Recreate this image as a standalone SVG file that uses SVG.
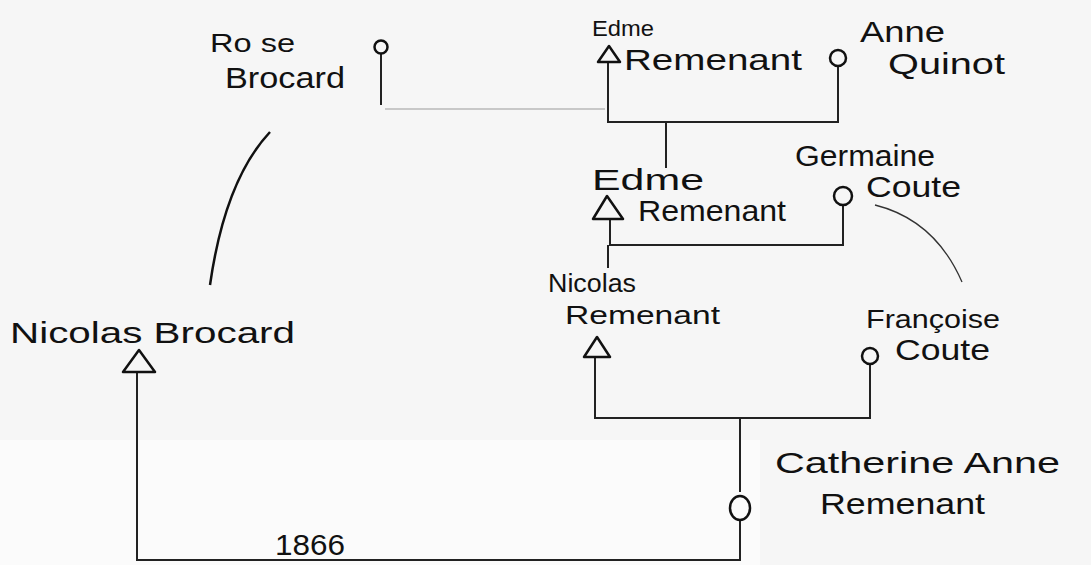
<svg xmlns="http://www.w3.org/2000/svg" width="1091" height="565" viewBox="0 0 1091 565">
<style>
.t{font-family:"Liberation Sans",Arial,sans-serif;font-size:29px;fill:#111}
.s{font-size:22px}
.m2{font-size:26px}
.ln{stroke:#222;stroke-width:2;fill:none}
.thin{stroke:#333;stroke-width:1.3;fill:none}
.f{stroke:#111;stroke-width:2.5;fill:none}
.m{stroke:#111;stroke-width:2.5;fill:none;stroke-linejoin:round}
</style>
<rect width="1091" height="565" fill="#f6f6f6"/>
<rect x="0" y="440" width="760" height="125" fill="#fbfbfb"/>
<g id="connectors">
  <path class="ln" d="M381 54 V105"/>
  <path d="M385 109 H605" stroke="#999" stroke-width="1.2" fill="none"/>
  <path class="ln" d="M608 62 V122 H838 V66"/>
  <path class="ln" d="M666 122 V168"/>
  <path class="ln" d="M610 220 V245 H843 V205"/>
  <path class="ln" d="M608 245 V268"/>
  <path class="ln" d="M595 358 V418 H870 V364"/>
  <path class="ln" d="M740 418 V492"/>
  <path class="ln" d="M740 520 V560 H137 V372"/>
  <path class="f" d="M270 132 Q225 180 210 285"/>
  <path class="thin" d="M875 205 Q935 220 962 282"/>
</g>
<g id="rose-brocard">
  <circle class="f" cx="381" cy="47" r="6.5"/>
  <text class="t m2" x="210" y="52" textLength="85" lengthAdjust="spacingAndGlyphs">Ro se</text>
  <text class="t" x="225" y="88" textLength="120" lengthAdjust="spacingAndGlyphs">Brocard</text>
</g>
<g id="edme-remenant-1">
  <polygon class="m" points="609,46 598,62 620,62"/>
  <text class="t s" x="592" y="36" textLength="62" lengthAdjust="spacingAndGlyphs">Edme</text>
  <text class="t" x="624" y="70" textLength="178" lengthAdjust="spacingAndGlyphs">Remenant</text>
</g>
<g id="anne-quinot">
  <circle class="f" cx="838" cy="58" r="8"/>
  <text class="t" x="860" y="42" textLength="85" lengthAdjust="spacingAndGlyphs">Anne</text>
  <text class="t" x="888" y="74" textLength="117" lengthAdjust="spacingAndGlyphs">Quinot</text>
</g>
<g id="edme-remenant-2">
  <polygon class="m" points="607,196 593,219 623,219"/>
  <text class="t" x="592" y="190" textLength="112" lengthAdjust="spacingAndGlyphs">Edme</text>
  <text class="t" x="638" y="221" textLength="148" lengthAdjust="spacingAndGlyphs">Remenant</text>
</g>
<g id="germaine-coute">
  <circle class="f" cx="843" cy="196" r="9"/>
  <text class="t" x="795" y="166" textLength="140" lengthAdjust="spacingAndGlyphs">Germaine</text>
  <text class="t" x="866" y="197" textLength="95" lengthAdjust="spacingAndGlyphs">Coute</text>
</g>
<g id="nicolas-remenant">
  <polygon class="m" points="597,337 584,357 610,357"/>
  <text class="t m2" x="548" y="292" textLength="88" lengthAdjust="spacingAndGlyphs">Nicolas</text>
  <text class="t m2" x="565" y="324" textLength="155" lengthAdjust="spacingAndGlyphs">Remenant</text>
</g>
<g id="francoise-coute">
  <circle class="f" cx="870" cy="356" r="8"/>
  <text class="t m2" x="866" y="328" textLength="134" lengthAdjust="spacingAndGlyphs">Françoise</text>
  <text class="t" x="895" y="360" textLength="95" lengthAdjust="spacingAndGlyphs">Coute</text>
</g>
<g id="nicolas-brocard">
  <polygon class="m" points="139,350 123,372 155,372"/>
  <text class="t" x="10" y="343" textLength="285" lengthAdjust="spacingAndGlyphs">Nicolas Brocard</text>
</g>
<g id="catherine-anne-remenant">
  <ellipse class="f" cx="740" cy="508" rx="10" ry="12"/>
  <text class="t" x="775" y="473" textLength="285" lengthAdjust="spacingAndGlyphs">Catherine Anne</text>
  <text class="t" x="820" y="514" textLength="165" lengthAdjust="spacingAndGlyphs">Remenant</text>
</g>
<g id="marriage-date">
  <text class="t" x="275" y="555" textLength="70" lengthAdjust="spacingAndGlyphs">1866</text>
</g>
</svg>
